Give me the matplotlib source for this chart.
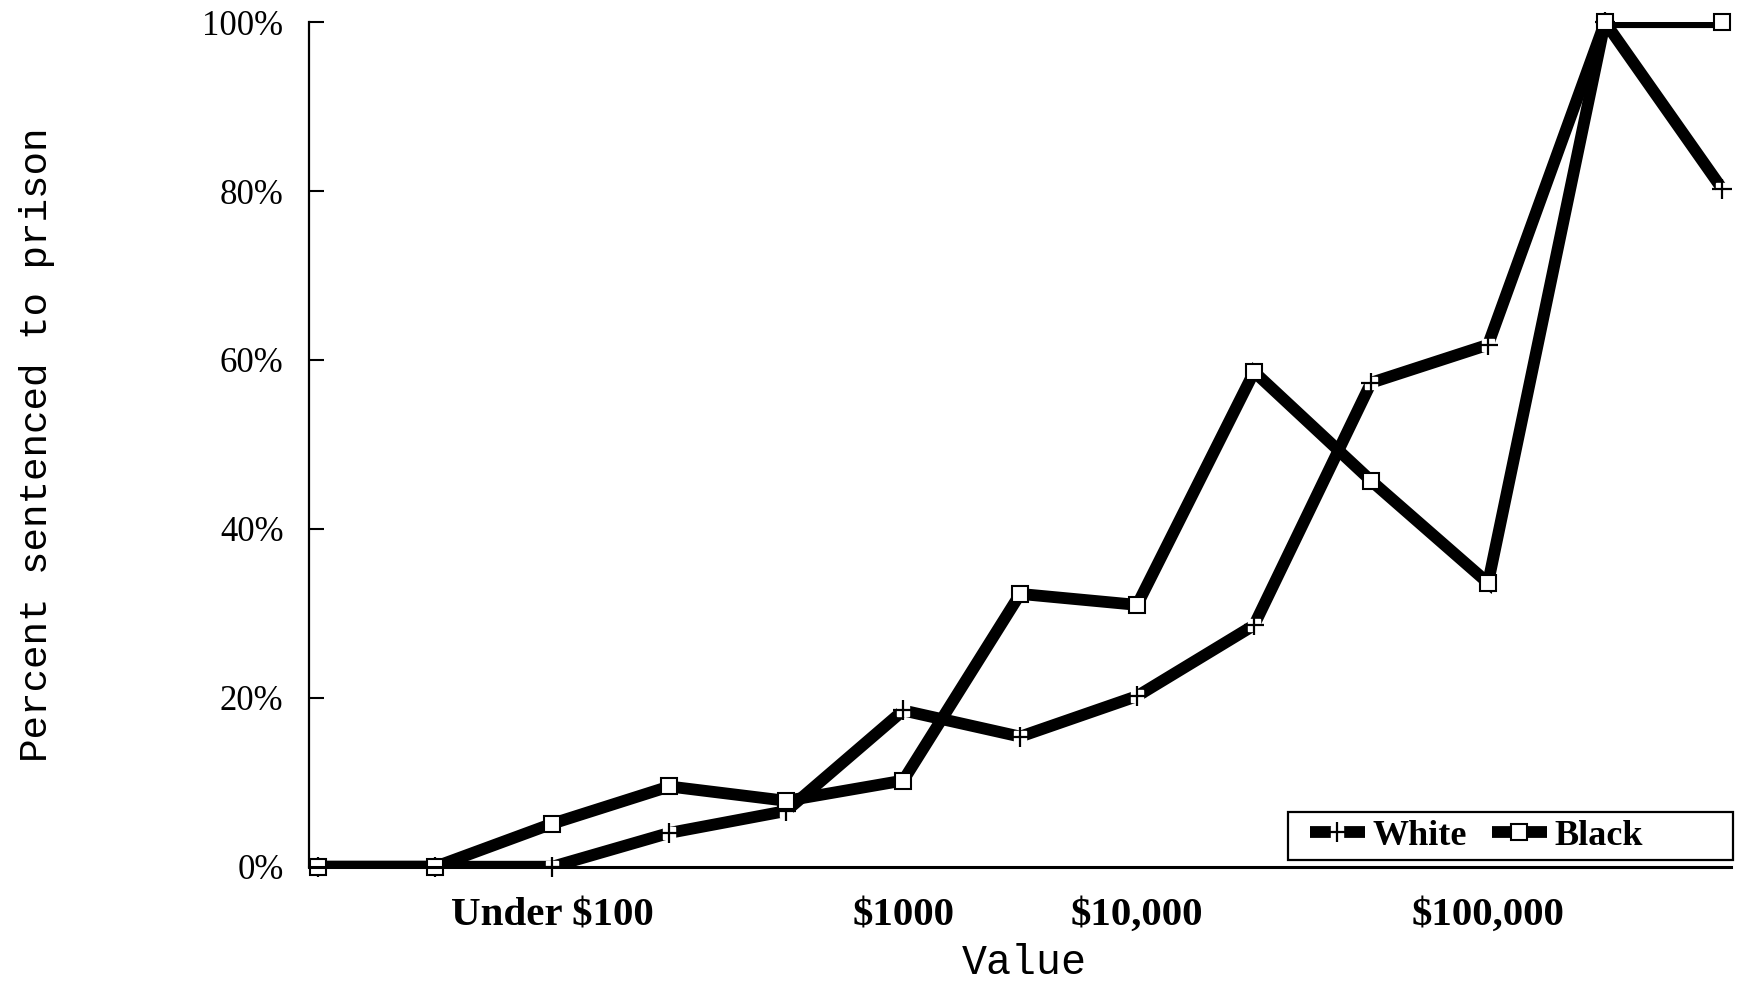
import matplotlib
matplotlib.use("Agg")
import matplotlib.pyplot as plt
from matplotlib.lines import Line2D
from matplotlib.patches import Rectangle

# ---- data ----
positions = list(range(13))
tick_positions = [2, 5, 7, 10]
tick_labels = ["Under $100", "$1000", "$10,000", "$100,000"]
white_pct = [0, 0, 0, 4.0, 6.6, 18.5, 15.4, 20.2, 28.6, 57.3, 61.8, 100, 80.3]
black_pct = [0, 0, 5.1, 9.5, 7.8, 10.2, 32.3, 31.0, 58.6, 45.7, 33.6, 100, 100]
y_ticks = [0, 20, 40, 60, 80, 100]
y_tick_labels = ["0%", "20%", "40%", "60%", "80%", "100%"]

fig = plt.figure(figsize=(17.4, 9.85), dpi=100)
ax = fig.add_axes([0.1773, 0.1201, 0.9948 - 0.1773, 0.9775 - 0.1201])

LW = 8.5
# lines (clipped to the axes)
ax.plot(positions, white_pct, color="black", lw=LW, solid_capstyle="butt",
        solid_joinstyle="miter", zorder=2)
ax.plot(positions, black_pct, color="black", lw=LW, solid_capstyle="butt",
        solid_joinstyle="miter", zorder=3)
# white markers: gap + thin cross
ax.plot(positions, white_pct, ls="none", marker="s", ms=9, mfc="white",
        mec="white", clip_on=False, zorder=4)
ax.plot(positions, white_pct, ls="none", marker="+", ms=14, mew=1.6,
        color="black", clip_on=False, zorder=5)
# black markers: hollow squares
ax.plot(positions, black_pct, ls="none", marker="s", ms=11, mfc="white",
        mec="black", mew=1.5, clip_on=False, zorder=6)

ax.set_xlim(-0.085, 12.077)
ax.set_ylim(0, 100)

for s in ["top", "right"]:
    ax.spines[s].set_visible(False)
ax.spines["left"].set_linewidth(1.6)
ax.spines["bottom"].set_linewidth(2.2)
ax.spines["left"].set_zorder(7)
ax.spines["bottom"].set_zorder(7)

ax.set_yticks(y_ticks)
ax.set_yticklabels(y_tick_labels, fontfamily="Liberation Serif", fontsize=25)
ax.tick_params(axis="y", direction="in", length=11, width=1.5, pad=18)

ax.set_xticks(tick_positions)
ax.set_xticklabels(tick_labels, fontfamily="Liberation Serif",
                   fontweight="bold", fontsize=29.5)
ax.tick_params(axis="x", length=0, pad=22)

ax.set_ylabel("Percent sentenced to prison", fontfamily="Liberation Mono",
              fontsize=28.3, labelpad=0)
ax.yaxis.set_label_coords(-0.178, 0.5)
ax.set_xlabel("Value", fontfamily="Liberation Mono", fontsize=30)
ax.xaxis.set_label_coords(0.503, -0.09)

# legend (frame drawn separately, as the reference box is wider than its content)
h_white = (Line2D([], [], color="black", lw=LW, solid_capstyle="butt"),
           Line2D([], [], ls="none", marker="s", ms=9, mfc="white", mec="white"),
           Line2D([], [], ls="none", marker="+", ms=14, mew=1.6, color="black"))
h_black = (Line2D([], [], color="black", lw=LW, solid_capstyle="butt"),
           Line2D([], [], ls="none", marker="s", ms=11, mfc="white",
                  mec="black", mew=1.5))
leg = ax.legend([h_white, h_black], ["White", "Black"], ncol=2,
                loc="center left", bbox_to_anchor=(0.704, 0.036),
                prop={"family": "Liberation Serif", "weight": "bold", "size": 26},
                handlelength=1.52, handletextpad=0.22, columnspacing=0.69,
                borderpad=0, borderaxespad=0, frameon=False)
leg.set_zorder(10)
ax.add_patch(Rectangle((0.6886, 0.0079), 1.0014 - 0.6886, 0.0648 - 0.0079,
                       transform=ax.transAxes, facecolor="white",
                       edgecolor="black", lw=1.6, clip_on=False, zorder=9))

fig.savefig("out.png", dpi=100, facecolor="white")
